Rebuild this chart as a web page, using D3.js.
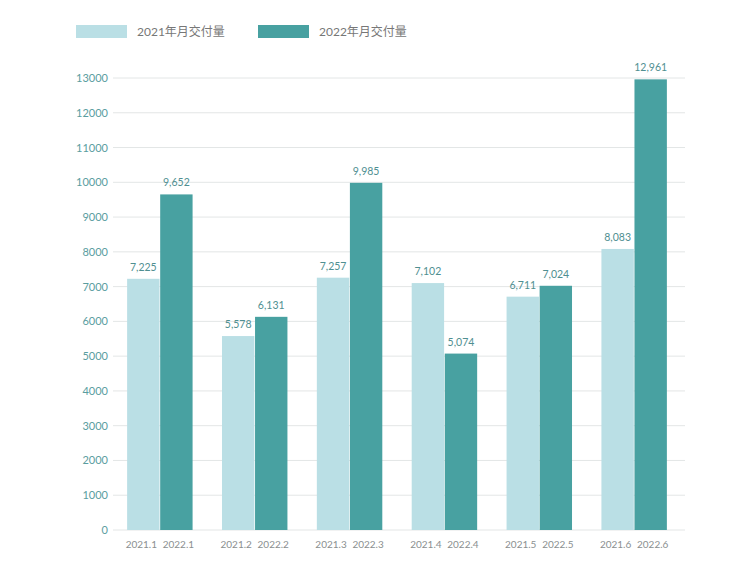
<!DOCTYPE html>
<html><head><meta charset="utf-8">
<script src="https://cdn.jsdelivr.net/npm/d3@7"></script>
<style>body{margin:0;background:#fff;font-family:Lato,"Noto Sans CJK SC",sans-serif}</style>
</head><body><svg id="c" width="750" height="561"></svg>
<script>
var months = ["1", "2", "3", "4", "5", "6"];
var v2021 = [7225, 5578, 7257, 7102, 6711, 8083];
var v2022 = [9652, 6131, 9985, 5074, 7024, 12961];
var yTicks = d3.range(0, 14000, 1000);
var series = [
  {name: "2021年月交付量", year: "2021", values: v2021, color: "#badfe5"},
  {name: "2022年月交付量", year: "2022", values: v2022, color: "#48a1a1"}
];

var svg = d3.select("#c");
var x = d3.scaleBand().domain(months).range([111, 683]).paddingInner(0.31).paddingOuter(0.17);
var x1 = d3.scaleBand().domain(["2021", "2022"]).range([0, x.bandwidth()]).paddingInner(0.02);
var y = d3.scaleLinear().domain([0, 13000]).range([530, 78]);

// grid
svg.append("g").selectAll("line").data(yTicks).enter().append("line")
  .attr("x1", 113).attr("x2", 685)
  .attr("y1", function(d){ return y(d); }).attr("y2", function(d){ return y(d); })
  .attr("stroke", "#e3e6e6").attr("stroke-width", 1);

svg.append("g").selectAll("text").data(yTicks).enter().append("text")
  .attr("x", 108).attr("y", function(d){ return y(d) + 4; })
  .attr("text-anchor", "end").attr("font-size", 11).attr("fill", "#5a9d9f")
  .text(function(d){ return d; });

var fmt = d3.format(",");
series.forEach(function(s){
  var g = svg.append("g");
  g.selectAll("rect").data(s.values).enter().append("rect")
    .attr("x", function(d, i){ return x(months[i]) + x1(s.year); })
    .attr("y", function(d){ return y(d); })
    .attr("width", x1.bandwidth())
    .attr("height", function(d){ return y(0) - y(d); })
    .attr("fill", s.color);
  g.selectAll("text.v").data(s.values).enter().append("text")
    .attr("x", function(d, i){ return x(months[i]) + x1(s.year) + x1.bandwidth() / 2; })
    .attr("y", function(d){ return y(d) - 8; })
    .attr("text-anchor", "middle").attr("font-size", 10.5).attr("fill", "#4f8f91")
    .text(function(d){ return fmt(d); });
  g.selectAll("text.l").data(months).enter().append("text")
    .attr("x", function(d){ return x(d) + x1(s.year) + x1.bandwidth() / 2 + (s.year == "2021" ? -2 : 2); })
    .attr("y", 548)
    .attr("text-anchor", "middle").attr("font-size", 10).attr("fill", "#8a8f90")
    .text(function(d){ return s.year + "." + d; });
});

// legend
var lg = svg.append("g").selectAll("g").data(series).enter().append("g")
  .attr("transform", function(d, i){ return "translate(" + (76 + i * 182) + ",25)"; });
lg.append("rect").attr("width", 51).attr("height", 13).attr("fill", function(d){ return d.color; });
lg.append("text").attr("x", 61).attr("y", 11).attr("font-size", 12).attr("fill", "#777")
  .text(function(d){ return d.name; });
</script></body></html>
